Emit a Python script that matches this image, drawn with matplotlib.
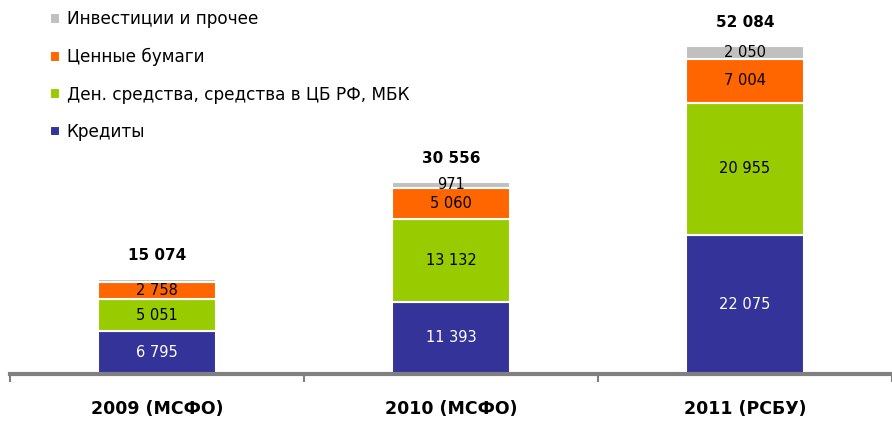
import numpy as np
import matplotlib.pyplot as plt

years = ['2009 (МСФО)', '2010 (МСФО)', '2011 (РСБУ)']
credits = [6795, 11393, 22075]
cash = [5051, 13132, 20955]
securities = [2758, 5060, 7004]
other = [470, 971, 2050]
totals = [15074, 30556, 52084]

names = ['Кредиты', 'Ден. средства, средства в ЦБ РФ, МБК', 'Ценные бумаги', 'Инвестиции и прочее']
colors = ['#333399', '#99CC00', '#FF6600', '#C0C0C0']
series = [credits, cash, securities, other]

plt.rcParams['font.family'] = ['DejaVu Sans']

fig = plt.figure(figsize=(8.92, 4.21), dpi=100)
ax = fig.add_axes([0.011, 0.112, 0.989, 0.888])

x = np.arange(len(years))
bottom = np.zeros(len(years))
bars = []
for vals, c, n in zip(series, colors, names):
    b = ax.bar(x, vals, 0.4, bottom=bottom, color=c, edgecolor='white', linewidth=1.5, label=n)
    bars.append(b)
    for i, v in enumerate(vals):
        if n == 'Инвестиции и прочее' and i == 0:
            continue
        txt = f'{v:,}'.replace(',', ' ')
        ax.text(x[i], bottom[i] + v / 2, txt, ha='center', va='center', fontsize=10.5,
                color='white' if c == '#333399' else 'black')
    bottom += vals

for i, t in enumerate(totals):
    ax.text(x[i], t + 3700, f'{t:,}'.replace(',', ' '), ha='center', va='center',
            fontsize=11, fontweight='bold')

ax.set_xlim(-0.5, 2.5)
ax.set_ylim(0, 59400)
ax.set_yticks([])
ax.set_xticks(x)
ax.set_xticklabels(years, fontsize=12.5, fontweight='bold')
ax.tick_params(axis='x', which='major', length=0, pad=19)
ax.set_xticks([-0.5, 0.5, 1.5, 2.5], minor=True)
ax.tick_params(axis='x', which='minor', length=6, width=1.5, color='#808080', direction='out')
for s in ['top', 'right', 'left']:
    ax.spines[s].set_visible(False)
ax.spines['bottom'].set_color('#808080')
ax.spines['bottom'].set_linewidth(3)

h = [bars[3], bars[2], bars[1], bars[0]]
leg = ax.legend(h, [names[3], names[2], names[1], names[0]], loc='upper left',
                bbox_to_anchor=(0.028, 1.013), frameon=False, fontsize=12.2,
                handlelength=0.6, handleheight=0.6, handletextpad=0.4, labelspacing=1.15)

fig.savefig('out.png', dpi=100)
